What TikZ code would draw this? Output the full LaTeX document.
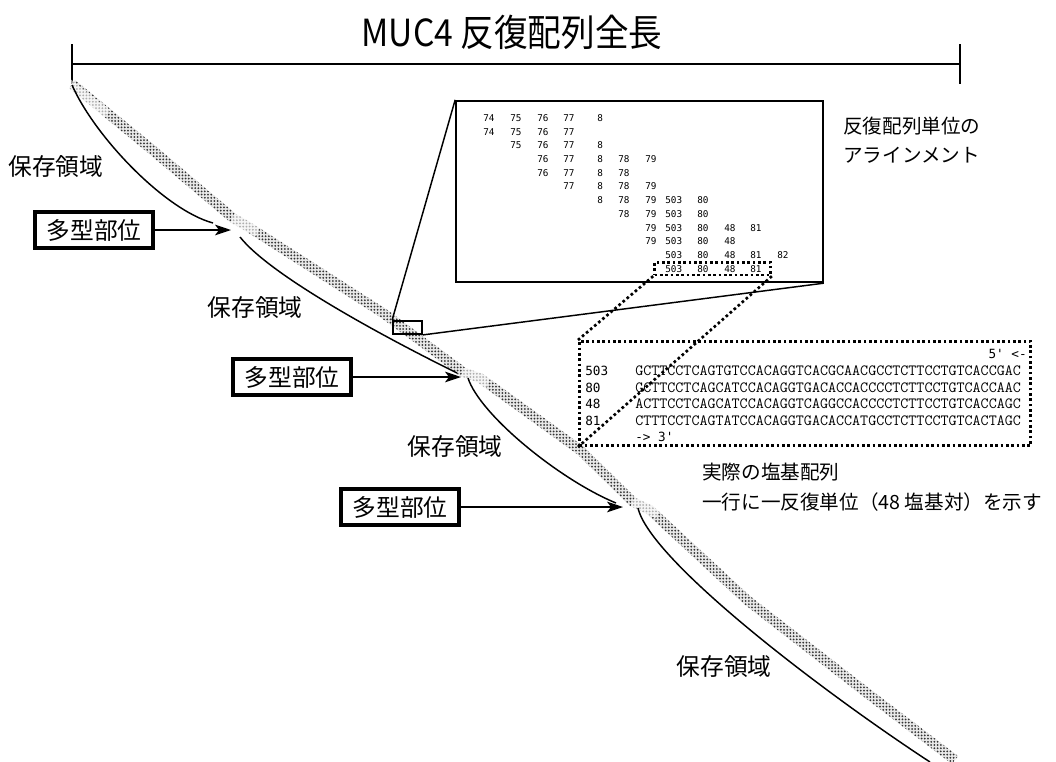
\documentclass[tikz,border=0pt]{standalone}
\usepackage{fontspec}
\setmainfont{Noto Sans CJK JP}
\newfontfamily\seqlab{DejaVu Sans Mono}
\newfontfamily\numfont{DejaVu Sans Mono}
\usetikzlibrary{arrows.meta,patterns.meta}
\tikzset{
 x=0.75pt, y=-0.75pt,
 lbl/.style={font=\fontsize{17.8pt}{20pt}\selectfont, inner sep=0pt},
 note/.style={font=\fontsize{14.7pt}{17pt}\selectfont, inner sep=0pt, anchor=west},
 polybox/.style={draw, line width=3pt, minimum width=88pt, minimum height=27pt, inner sep=0pt, font=\fontsize{17.8pt}{20pt}\selectfont},
 arr/.style={line width=1.1pt, -{Stealth[length=12pt,width=8pt,inset=3pt]}},
 arcline/.style={line width=1.1pt},
 thinline/.style={line width=1.1pt},
 dotline/.style={line width=2pt, dash pattern=on 2pt off 2pt},
 num/.style={font=\numfont\fontsize{7pt}{8pt}\selectfont, inner sep=0pt, anchor=west},
 seq/.style={font=\ttfamily\fontsize{11.7pt}{13pt}\selectfont, inner sep=0pt, anchor=west},
 seqlbl/.style={font=\seqlab\fontsize{9.5pt}{11pt}\selectfont, inner sep=0pt, anchor=west},
 bandbg/.style={fill=gray!18},
 banddots/.style={pattern={Dots[distance=2.4pt,radius=0.75pt]}, pattern color=black!80},
 bandlight/.style={fill=white, opacity=0.6},
}
\expandafter\def\csname cx74\endcsname{483}
\expandafter\def\csname cx75\endcsname{510}
\expandafter\def\csname cx76\endcsname{537}
\expandafter\def\csname cx77\endcsname{563}
\expandafter\def\csname cx8\endcsname{597}
\expandafter\def\csname cx78\endcsname{618}
\expandafter\def\csname cx79\endcsname{645}
\expandafter\def\csname cx503\endcsname{665}
\expandafter\def\csname cx80\endcsname{697}
\expandafter\def\csname cx48\endcsname{724}
\expandafter\def\csname cx81\endcsname{750}
\expandafter\def\csname cx82\endcsname{777}
\begin{document}
\begin{tikzpicture}
\useasboundingbox (0,0) rectangle (1056,761);

% title and span
\node[font=\fontsize{28pt}{32pt}\selectfont, inner sep=0pt] (title) at (512,32) {\scalebox{0.9}[1]{MUC4 反復配列全長}};
\coordinate (spanL) at (72,64);
\coordinate (spanR) at (960,64);
\draw[thinline] (spanL) -- (spanR);
\draw[thinline] ([yshift=15pt]spanL) -- ([yshift=-15pt]spanL);
\draw[thinline] ([yshift=15pt]spanR) -- ([yshift=-15pt]spanR);

% dot-plot band
\foreach \st in {bandbg,banddots}{
\fill[\st] (75,80) -- (153,144) -- (236,214) -- (250,222) -- (386,309) -- (466,368) -- (483,374) -- (583,446) -- (636,498) -- (653,506) -- (750,596) -- (870,689) -- (958,756)
 -- (952,764) -- (864,697) -- (744,604) -- (647,514) -- (630,506) -- (577,454) -- (477,382) -- (460,376) -- (380,317) -- (244,230) -- (230,222) -- (147,152) -- (69,88) -- cycle;
}
% lighter stretches at the polymorphic sites and the start
\fill[bandlight] (69,78) -- (110,110) -- (104,118) -- (63,86) -- cycle;
\fill[bandlight] (236,210) -- (262,222) -- (256,236) -- (230,224) -- cycle;
\fill[bandlight] (466,364) -- (492,374) -- (486,388) -- (460,378) -- cycle;
\fill[bandlight] (636,494) -- (662,504) -- (656,518) -- (630,508) -- cycle;

% conserved-region arcs
\draw[arcline] (72,85) .. controls (95,137) and (165,210) .. (213,223);
\draw[arcline] (240,237) .. controls (270,275) and (380,335) .. (457,373);
\draw[arcline] (468,378) .. controls (480,415) and (560,480) .. (616,503);
\draw[arcline] (638,508) .. controls (650,560) and (820,690) .. (930,762);

% labels
\node[lbl] (c1) at (56,167) {保存領域};
\node[lbl] (c2) at (255,308) {保存領域};
\node[lbl] (c3) at (455,447) {保存領域};
\node[lbl] (c4) at (724,667) {保存領域};

% polymorphic sites
\node[polybox] (p1) at (94,230) {多型部位};
\node[polybox] (p2) at (292,377) {多型部位};
\node[polybox] (p3) at (400,507) {多型部位};
\coordinate (tip1) at (231,230);
\coordinate (tip2) at (461,377);
\coordinate (tip3) at (623,507);
\draw[arr] (p1.east) -- (tip1);
\draw[arr] (p2.east) -- (tip2);
\draw[arr] (p3.east) -- (tip3);

% zoom boxes
\node[draw, line width=1.1pt, minimum width=22pt, minimum height=10pt, inner sep=0pt] (small) at (407.5,327.5) {};
\node[draw, line width=1.5pt, minimum width=275pt, minimum height=136pt, inner sep=0pt] (aln) at (639.5,191.5) {};
\draw[thinline] (small.north west) -- (aln.north west);
\draw[thinline] (small.south east) -- (aln.south east);

% alignment numbers
\foreach \r/\lst in {1/{74,75,76,77,8},2/{74,75,76,77},3/{75,76,77,8},4/{76,77,8,78,79},5/{76,77,8,78},6/{77,8,78,79},7/{8,78,79,503,80},8/{78,79,503,80},9/{79,503,80,48,81},10/{79,503,80,48},11/{503,80,48,81,82},12/{503,80,48,81}}{
 \foreach \v in \lst {
  \node[num] (n\r-\v) at ({\csname cx\v\endcsname},{118+13.7*(\r-1)}) {\v};
 }
}
\node[draw, dotline, minimum width=87pt, minimum height=9.5pt, inner sep=0pt] (rowbox) at (712.5,268.5) {};

% sequence box
\node[draw, dotline, minimum width=338.5pt, minimum height=78.25pt, inner sep=0pt] (seqbox) at (805,393.5) {};
\draw[dotline] (rowbox.south west) -- (seqbox.north west);
\draw[dotline] (rowbox.south east) -- (seqbox.south west);

\node[seqlbl, anchor=east] (s0) at (1027,354) {5' <-};
\node[seqlbl] (l1) at (585,371) {503};
\node[seq] (s1) at (635,371) {GCTTCCTCAGTGTCCACAGGTCACGCAACGCCTCTTCCTGTCACCGAC};
\node[seqlbl] (l2) at (585,387.5) {80};
\node[seq] (s2) at (635,387.5) {GCTTCCTCAGCATCCACAGGTGACACCACCCCTCTTCCTGTCACCAAC};
\node[seqlbl] (l3) at (585,404) {48};
\node[seq] (s3) at (635,404) {ACTTCCTCAGCATCCACAGGTCAGGCCACCCCTCTTCCTGTCACCAGC};
\node[seqlbl] (l4) at (585,420.5) {81};
\node[seq] (s4) at (635,420.5) {CTTTCCTCAGTATCCACAGGTGACACCATGCCTCTTCCTGTCACTAGC};
\node[seqlbl] (s5) at (635,437) {-> 3'};

% annotations
\node[note] (a1) at (843,126) {反復配列単位の};
\node[note] (a2) at (843,155) {アラインメント};
\node[note] (a3) at (702,472) {実際の塩基配列};
\node[note] (a4) at (702,502) {一行に一反復単位（48 塩基対）を示す};
\end{tikzpicture}
\end{document}
